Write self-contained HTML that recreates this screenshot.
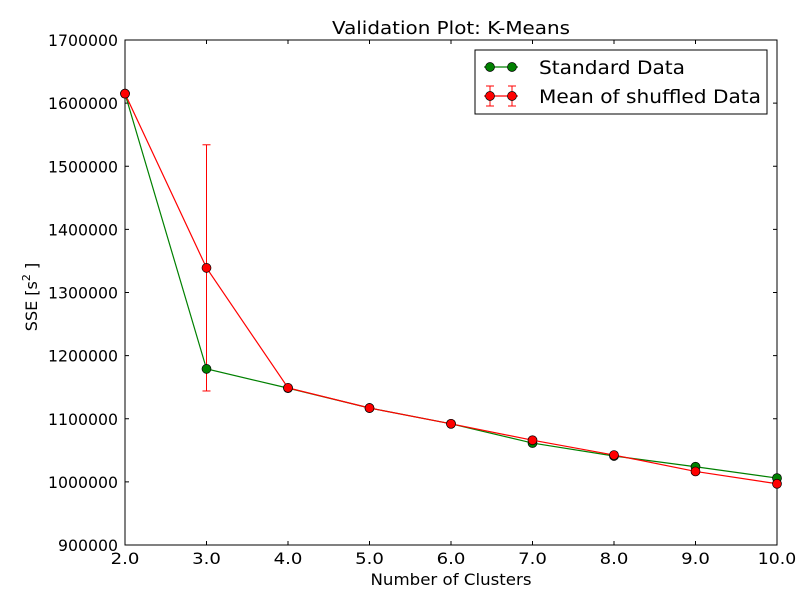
<!DOCTYPE html>
<html><head><meta charset="utf-8"><style>
body{margin:0;background:#fff;}
svg{display:block;font-family:"DejaVu Sans","Liberation Sans",sans-serif;}
</style></head><body>
<svg id="chart" width="812" height="612"></svg>
<script>
const categories=[2,3,4,5,6,7,8,9,10];
const standardValues=[1615000,1179000,1148500,1117000,1092000,1061500,1041000,1024000,1006000];
const shuffledValues=[1615000,1339000,1149000,1117000,1092000,1066000,1042500,1016500,997000];
const shuffledErrLow=[1615000,1144000,1149000,1117000,1092000,1066000,1042500,1016500,997000];
const shuffledErrHigh=[1615000,1534000,1149000,1117000,1092000,1066000,1042500,1016500,997000];
const xTicks=[2,3,4,5,6,7,8,9,10];
const yTicks=[900000,1000000,1100000,1200000,1300000,1400000,1500000,1600000,1700000];

const L=125,R=777,T=40,B=545;
const xs=v=>L+(v-2)/8*(R-L);
const ys=v=>B-(v-900000)/800000*(B-T);
const svg=document.getElementById('chart');
const NS='http://www.w3.org/2000/svg';
function mk(tag,attrs,parent){const e=document.createElementNS(NS,tag);for(const k in attrs)e.setAttribute(k,attrs[k]);(parent||svg).appendChild(e);return e;}

const axes=mk('rect',{x:L,y:T,width:R-L,height:B-T,fill:'#fff',stroke:'#000','stroke-width':1});



xTicks.forEach(v=>{
  const x=xs(v);
  mk('line',{x1:x,x2:x,y1:B,y2:B-4,stroke:'#000'});
  mk('line',{x1:x,x2:x,y1:T,y2:T+4,stroke:'#000'});
  const s=v.toFixed(1);
  const t=mk('text',{x:x,y:B+19,'text-anchor':'middle','font-size':16,textLength:s.length*9.6,lengthAdjust:'spacingAndGlyphs'});
  t.textContent=s;
  
  
});
yTicks.forEach(v=>{
  const y=ys(v);
  mk('line',{x1:L,x2:L+4,y1:y,y2:y,stroke:'#000'});
  mk('line',{x1:R,x2:R-4,y1:y,y2:y,stroke:'#000'});
  const s=String(v);
  const t=mk('text',{x:L-7,y:y+6,'text-anchor':'end','font-size':16,textLength:s.length*10,lengthAdjust:'spacingAndGlyphs'});
  t.textContent=s;
  
  
});

categories.forEach((c,i)=>{
  if(shuffledErrHigh[i]-shuffledErrLow[i]<1)return;
  const x=xs(c);
  const g=mk('g',{stroke:'#f00','stroke-width':1});
  
  
  mk('line',{x1:x,x2:x,y1:ys(shuffledErrLow[i]),y2:ys(shuffledErrHigh[i])},g);
  mk('line',{x1:x-4,x2:x+4,y1:ys(shuffledErrLow[i]),y2:ys(shuffledErrLow[i])},g);
  mk('line',{x1:x-4,x2:x+4,y1:ys(shuffledErrHigh[i]),y2:ys(shuffledErrHigh[i])},g);
});

function series(vals,color,name){
  const pts=categories.map((c,i)=>xs(c)+','+ys(vals[i])).join(' ');
  const pl=mk('polyline',{points:pts,fill:'none',stroke:color,'stroke-width':1.2});
  
  
  categories.forEach((c,i)=>{
    const p=mk('circle',{cx:xs(c),cy:ys(vals[i]),r:4.5,fill:color,stroke:'#000','stroke-width':0.7});
    
    
  });
}
series(standardValues,'#008000','standard');
series(shuffledValues,'#f00','shuffled');

const title=mk('text',{x:(L+R)/2,y:34,'text-anchor':'middle','font-size':18,textLength:238,lengthAdjust:'spacingAndGlyphs'});
title.textContent='Validation Plot: K-Means';


const xl=mk('text',{x:(L+R)/2,y:585,'text-anchor':'middle','font-size':16,textLength:161,lengthAdjust:'spacingAndGlyphs'});
xl.textContent='Number of Clusters';


const yl=mk('text',{x:0,y:0,'text-anchor':'middle','font-size':16,transform:'translate(37,297) rotate(-90)'});
yl.innerHTML='SSE [s<tspan font-size="11" dy="-7">2</tspan><tspan dy="7"> ]</tspan>';



const lg=mk('g',{});


mk('rect',{x:475,y:50,width:292,height:64,fill:'#fff',stroke:'#000'},lg);
const e1=mk('g',{},lg);


mk('line',{x1:484,x2:518,y1:67,y2:67,stroke:'#008000','stroke-width':1.2},e1);
mk('circle',{cx:490,cy:67,r:4.5,fill:'#008000',stroke:'#000','stroke-width':0.7},e1);
mk('circle',{cx:512,cy:67,r:4.5,fill:'#008000',stroke:'#000','stroke-width':0.7},e1);
const t1=mk('text',{x:539,y:74,'font-size':19,textLength:146,lengthAdjust:'spacingAndGlyphs'},e1);t1.textContent='Standard Data';
const e2=mk('g',{},lg);


mk('line',{x1:484,x2:518,y1:96,y2:96,stroke:'#f00','stroke-width':1.2},e2);
[490,512].forEach(x=>{
  mk('line',{x1:x,x2:x,y1:86,y2:106,stroke:'#f00'},e2);
  mk('line',{x1:x-4,x2:x+4,y1:86,y2:86,stroke:'#f00'},e2);
  mk('line',{x1:x-4,x2:x+4,y1:106,y2:106,stroke:'#f00'},e2);
  mk('circle',{cx:x,cy:96,r:4.5,fill:'#f00',stroke:'#000','stroke-width':0.7},e2);
});
const t2=mk('text',{x:539,y:103,'font-size':19,textLength:222,lengthAdjust:'spacingAndGlyphs'},e2);t2.textContent='Mean of shuffled Data';
</script>
</body></html>
